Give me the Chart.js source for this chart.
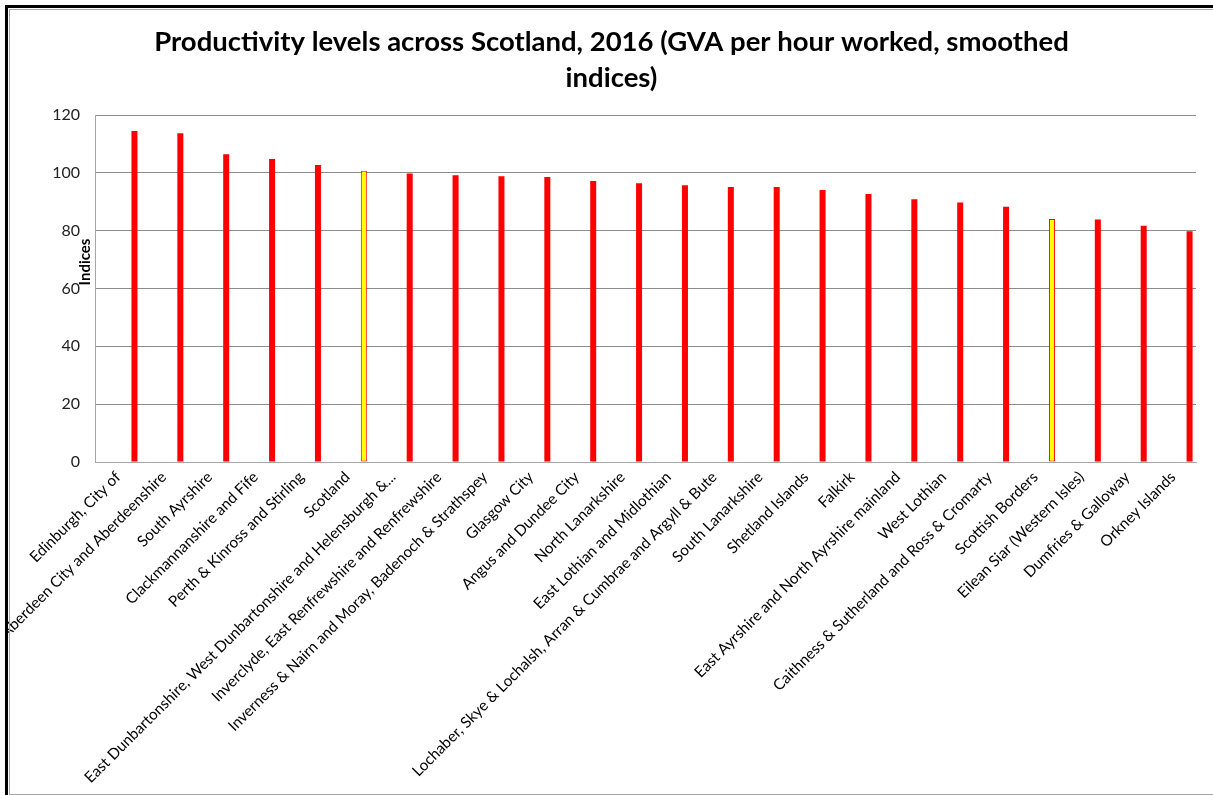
<!DOCTYPE html>
<html>
<head>
<meta charset="utf-8">
<title>Productivity levels across Scotland, 2016</title>
<script src="https://cdn.jsdelivr.net/npm/chart.js@4.4.1/dist/chart.umd.min.js"></script>
<style>
  html, body { margin: 0; padding: 0; background: #fff; overflow: hidden; }
  #wrap { position: relative; width: 1213px; height: 795px; overflow: hidden; }
  #chart { position: absolute; left: 0; top: 0; }
  .margin-left { position: absolute; left: 0; top: 0; width: 5px; height: 795px; background: #fff; }
  .frame-outer {
    position: absolute; left: 5px; top: 5px; width: 1400px; height: 900px;
    border-left: 3px solid #000; border-top: 3px solid #000; pointer-events: none;
  }
  .frame-inner {
    position: absolute; left: 9px; top: 9px; width: 1400px; height: 786px;
    box-sizing: border-box; border: 1px solid #a6a6a6; pointer-events: none;
  }
</style>
</head>
<body>
<div id="wrap">
  <canvas id="chart" width="1213" height="795"></canvas>
  <div class="margin-left"></div>
  <div class="frame-outer"></div>
  <div class="frame-inner"></div>
</div>
<script>
// Council areas, ordered from highest to lowest index
const regions = [
  'Edinburgh, City of',
  'Aberdeen City and Aberdeenshire',
  'South Ayrshire',
  'Clackmannanshire and Fife',
  'Perth & Kinross and Stirling',
  'Scotland',
  'East Dunbartonshire, West Dunbartonshire and Helensburgh &...',
  'Inverclyde, East Renfrewshire and Renfrewshire',
  'Inverness & Nairn and Moray, Badenoch & Strathspey',
  'Glasgow City',
  'Angus and Dundee City',
  'North Lanarkshire',
  'East Lothian and Midlothian',
  'Lochaber, Skye & Lochalsh, Arran & Cumbrae and Argyll & Bute',
  'South Lanarkshire',
  'Shetland Islands',
  'Falkirk',
  'East Ayrshire and North Ayrshire mainland',
  'West Lothian',
  'Caithness & Sutherland and Ross & Cromarty',
  'Scottish Borders',
  'Eilean Siar (Western Isles)',
  'Dumfries & Galloway',
  'Orkney Islands'
];

// GVA per hour worked, smoothed indices
const gvaIndex = [
  114.5, 113.7, 106.4, 104.8, 102.7, 100.7, 99.8, 99.2, 98.8, 98.6, 97.2, 96.4,
  95.7, 95.1, 95.1, 94.1, 92.7, 90.9, 89.7, 88.3, 84.0, 83.9, 81.7, 79.8
];

// Empty companion series that occupies the first slot of each category cluster
const spacerSeries = regions.map(() => null);

// Categories drawn in the highlight colour
const highlighted = ['Scotland', 'Scottish Borders'];

const yTicks = { min: 0, max: 120, step: 20 };
const titleLines = ['Productivity levels across Scotland, 2016 (GVA per hour worked, smoothed', 'indices)'];
const yAxisTitle = 'Indices';

const fillColours = regions.map(r => highlighted.includes(r) ? '#ffff00' : '#ff0000');
const borderWidths = regions.map(r => highlighted.includes(r) ? 1 : 0);

// Vertical axis caption sits just inside the tick labels
const axisCaption = {
  id: 'axisCaption',
  afterDraw(chart) {
    const { ctx } = chart;
    ctx.save();
    ctx.translate(85, 262);
    ctx.rotate(-Math.PI / 2);
    ctx.font = 'bold 15px Lato';
    ctx.fillStyle = '#000';
    ctx.textAlign = 'center';
    ctx.textBaseline = 'middle';
    ctx.fillText(yAxisTitle, 0, 0);
    ctx.restore();
  }
};

new Chart(document.getElementById('chart'), {
  type: 'bar',
  data: {
    labels: regions,
    datasets: [
      { label: '', data: spacerSeries },
      {
        label: 'GVA per hour worked',
        data: gvaIndex,
        backgroundColor: fillColours,
        borderColor: '#ff0000',
        borderWidth: borderWidths,
        borderSkipped: false
      }
    ]
  },
  options: {
    responsive: false,
    animation: false,
    events: [],
    categoryPercentage: 1.44,
    barPercentage: 0.182,
    layout: { padding: { left: 27, right: 17, top: 0, bottom: 0 } },
    plugins: {
      legend: { display: false },
      tooltip: { enabled: false },
      title: {
        display: true,
        text: titleLines,
        color: '#000',
        font: { family: 'Lato', weight: 'bold', size: 27.5, lineHeight: 1.3 },
        padding: { top: 24, bottom: 19.5 }
      }
    },
    scales: {
      x: {
        grid: { display: false, drawTicks: false },
        border: { display: true, color: '#a6a6a6', width: 1 },
        ticks: {
          autoSkip: false,
          minRotation: 45,
          maxRotation: 45,
          padding: 6,
          color: '#000',
          font: { family: 'Lato', size: 15.3 }
        },
        afterFit(scale) {
          scale.height = 333;
          scale.paddingLeft = 0;
          scale.paddingRight = 0;
        }
      },
      y: {
        min: yTicks.min,
        max: yTicks.max,
        grid: { color: '#8c8c8c', lineWidth: 1, drawTicks: false },
        border: { display: true, color: '#a6a6a6', width: 1 },
        ticks: {
          stepSize: yTicks.step,
          padding: 15,
          color: '#222',
          font: { family: 'Lato', size: 16 }
        },
        afterFit(scale) {
          scale.width = 68;
          scale.paddingTop = 0;
          scale.paddingBottom = 0;
        }
      }
    }
  },
  plugins: [axisCaption]
});
</script>
</body>
</html>
